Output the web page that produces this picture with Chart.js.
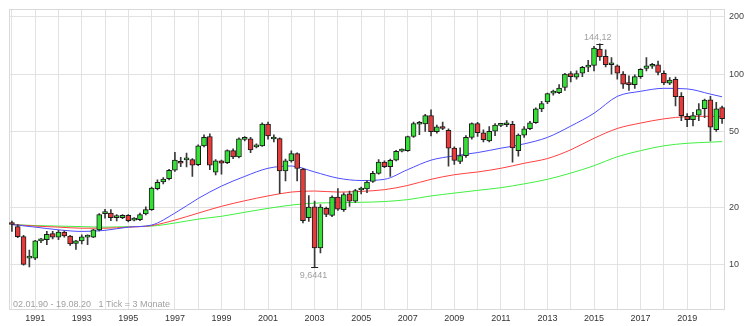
<!DOCTYPE html>
<html>
<head>
<meta charset="utf-8">
<script src="https://cdn.jsdelivr.net/npm/chart.js@4.4.1/dist/chart.umd.min.js"></script>
<style>
    html, body { margin: 0; padding: 0; background: #fff; }
    #wrap { width: 756px; height: 326px; position: relative; }
</style>
</head>
<body>
<div id="wrap"><canvas id="chart"></canvas></div>
<script>
// --- Data (quarterly candles, 1990 Q1 .. 2020 Q3) ---
const years = [1990, 1991, 1992, 1993, 1994, 1995, 1996, 1997, 1998, 1999, 2000, 2001, 2002, 2003, 2004,
    2005, 2006, 2007, 2008, 2009, 2010, 2011, 2012, 2013, 2014, 2015, 2016, 2017, 2018, 2019, 2020];
const quarterCount = 123;

const opens = [
    16.3, 15.8, 14.0, 10.8, 10.8, 13.3, 13.5, 14.5, 13.9, 14.8, 14.1, 12.9, 13.3, 13.9, 13.9, 15.2,
    18.5, 18.6, 17.6, 17.6, 18.1, 17.1, 17.2, 18.4, 19.4, 25.0, 27.1, 28.2, 31.3, 34.2, 35.4, 35.6,
    33.4, 42.0, 47.0, 30.5, 35.0, 34.2, 39.6, 36.7, 45.4, 45.7, 41.5, 42.0, 54.7, 45.6, 45.8, 31.0,
    35.0, 38.2, 31.7, 17.6, 20.1, 12.2, 19.7, 18.1, 22.6, 19.4, 23.5, 21.5, 24.6, 24.9, 27.3, 30.1,
    34.5, 32.6, 35.3, 39.4, 39.6, 47.0, 54.5, 54.7, 60.6, 49.9, 52.6, 50.6, 40.8, 34.8, 37.3, 46.5,
    54.9, 49.2, 44.6, 50.1, 53.8, 54.2, 54.4, 39.6, 47.8, 51.6, 55.5, 65.6, 71.4, 79.5, 79.8, 85.0,
    100.7, 96.5, 101.0, 108.8, 111.0, 135.5, 124.0, 112.0, 110.6, 100.0, 88.3, 88.0, 97.0, 107.0, 110.0, 112.0,
    101.0, 89.7, 94.0, 76.5, 60.0, 57.7, 60.8, 65.8, 73.3, 51.0, 66.7
];
const highs = [
    16.9, 16.2, 14.2, 11.9, 13.4, 13.7, 14.9, 14.9, 15.1, 15.0, 14.2, 13.4, 14.3, 14.3, 15.3, 18.5,
    19.5, 19.4, 18.3, 18.3, 18.3, 17.6, 18.6, 20.1, 25.5, 27.8, 28.6, 31.6, 38.8, 36.5, 38.5, 36.0,
    42.5, 48.0, 48.5, 35.5, 35.3, 40.0, 40.5, 46.2, 47.0, 46.5, 43.0, 55.5, 56.0, 48.0, 46.2, 35.8,
    39.5, 38.6, 32.0, 23.0, 21.5, 20.6, 20.0, 22.9, 25.0, 23.8, 24.3, 24.8, 25.5, 27.6, 30.8, 35.5,
    35.0, 35.8, 39.8, 40.5, 47.3, 56.0, 56.5, 61.5, 65.0, 54.0, 56.0, 51.5, 41.5, 41.0, 47.5, 55.5,
    55.8, 51.0, 53.0, 55.0, 55.0, 57.0, 56.5, 48.5, 53.0, 56.5, 66.5, 72.0, 79.5, 82.5, 88.0, 101.0,
    103.0, 104.0, 110.0, 118.0, 140.0, 144.12, 134.0, 122.0, 112.0, 103.0, 98.0, 99.0, 107.0, 122.0, 114.0, 117.0,
    104.0, 96.0, 96.5, 80.0, 62.0, 63.0, 70.0, 74.0, 76.4, 71.0, 68.0
];
const lows = [
    14.9, 13.8, 9.9, 9.7, 10.6, 13.0, 12.7, 13.6, 13.5, 13.9, 12.6, 12.0, 12.8, 12.7, 13.8, 15.0,
    17.5, 17.0, 16.9, 17.4, 16.7, 16.9, 17.0, 18.2, 19.2, 24.6, 26.5, 27.8, 30.8, 32.6, 32.5, 29.0,
    33.0, 41.5, 31.5, 29.5, 29.8, 33.8, 36.0, 36.3, 44.5, 38.7, 41.0, 41.7, 45.5, 44.0, 23.6, 27.5,
    34.5, 27.5, 16.5, 16.8, 9.6441, 11.5, 17.8, 17.8, 19.2, 19.0, 20.2, 21.2, 23.5, 23.8, 27.0, 29.8,
    32.2, 29.0, 35.0, 39.0, 39.3, 46.5, 48.0, 50.0, 47.3, 49.0, 51.0, 32.8, 33.5, 33.8, 36.5, 45.5,
    47.0, 44.0, 44.0, 47.5, 53.0, 53.0, 34.5, 37.0, 46.5, 51.0, 55.0, 63.5, 70.0, 77.5, 79.0, 82.0,
    91.0, 94.0, 97.0, 103.0, 104.0, 118.0, 109.0, 100.0, 94.0, 84.0, 82.0, 84.0, 95.0, 104.0, 107.0, 99.0,
    88.0, 88.0, 68.0, 57.0, 53.0, 53.5, 57.0, 59.0, 44.5, 50.0, 55.0
];
const closes = [
    16.2, 14.0, 10.0, 10.9, 13.3, 13.4, 14.4, 13.9, 14.8, 14.1, 12.8, 13.3, 13.95, 13.95, 15.2, 18.3,
    18.6, 17.6, 17.65, 18.1, 17.0, 17.4, 18.3, 19.4, 25.2, 27.0, 28.1, 31.2, 35.3, 34.0, 35.6, 33.2,
    42.0, 46.5, 33.2, 35.0, 34.0, 39.6, 36.7, 45.7, 46.0, 40.0, 42.5, 54.7, 47.3, 45.8, 31.0, 35.0,
    38.2, 31.9, 17.0, 20.0, 12.2, 20.0, 18.3, 22.6, 19.5, 23.3, 21.5, 24.4, 24.8, 27.1, 30.1, 34.5,
    32.6, 35.2, 39.3, 39.7, 46.9, 55.0, 55.2, 60.6, 49.9, 52.8, 51.8, 40.8, 35.2, 37.3, 46.5, 54.9,
    49.2, 45.2, 50.1, 53.9, 54.0, 54.4, 40.9, 47.8, 51.6, 55.5, 65.6, 70.0, 78.9, 80.0, 84.5, 100.0,
    97.0, 100.7, 108.6, 110.5, 136.9, 123.0, 112.0, 112.5, 101.0, 88.6, 88.0, 97.0, 106.0, 110.6, 112.0, 102.0,
    90.0, 93.0, 76.1, 60.5, 57.7, 60.5, 65.2, 73.0, 52.6, 65.6, 58.3
];

// moving averages, read once per year (first quarter) plus the last quarter
const maQuarters = [0, 4, 8, 12, 16, 20, 24, 28, 32, 36, 40, 44, 48, 52, 56, 60, 64, 68, 72, 76, 80,
    84, 88, 92, 96, 100, 104, 108, 112, 116, 120, 122];
const maBlue = [16.2, 15.7, 15.2, 14.9, 15.1, 15.7, 16.1, 18.6, 22.2, 25.8, 29.0, 32.0, 32.9, 30.6, 28.4,
    27.6, 28.0, 31.5, 35.3, 37.2, 38.7, 40.8, 43.0, 46.5, 53.3, 62.3, 76.4, 81.2, 84.2, 83.6, 78.5, 76.0];
const maRed = [16.2, 15.9, 15.7, 15.5, 15.5, 15.7, 16.0, 17.1, 18.6, 20.2, 21.6, 22.9, 24.0, 24.3, 24.0,
    24.2, 24.7, 26.0, 28.0, 29.6, 30.6, 32.0, 34.0, 36.0, 40.0, 46.0, 51.8, 55.3, 58.2, 59.8, 60.0, 59.8];
const maGreen = [16.2, 16.0, 15.9, 15.8, 15.7, 15.8, 15.9, 16.5, 17.3, 17.9, 18.8, 19.7, 20.5, 21.0, 21.1,
    21.2, 21.4, 21.9, 22.9, 23.7, 24.5, 25.3, 26.5, 28.0, 30.2, 33.0, 36.8, 39.6, 42.0, 43.3, 43.9, 44.2];

const yTicks = [10, 20, 50, 100, 200];
const rangeText = '02.01.90 - 19.08.20   1 Tick = 3 Monate';

// --- Build chart inputs ---
const labels = years.flatMap(y => [y + ' Q1', y + ' Q2', y + ' Q3', y + ' Q4']).slice(0, quarterCount);
const maPoints = values => values.map((v, i) => ({ x: labels[maQuarters[i]], y: v }));
const candleColors = opens.map((o, i) => closes[i] >= o ? '#35df35' : '#e63b3b');

const peakIndex = highs.indexOf(Math.max(...highs));
const lowIndex = lows.indexOf(Math.min(...lows));
const fmt = v => String(v).replace('.', ',');

const extrasPlugin = {
    id: 'extras',
    beforeDatasetsDraw(chart) {
        const { ctx, chartArea: a } = chart;
        ctx.save();
        ctx.strokeStyle = '#d9d9d9';
        ctx.lineWidth = 1;
        ctx.strokeRect(Math.round(a.left) + 0.5, Math.round(a.top) + 0.5,
            Math.round(a.right - a.left) - 1, Math.round(a.bottom - a.top) - 1);
        ctx.restore();
    },
    afterDatasetsDraw(chart) {
        const { ctx, chartArea: a, scales: { x, y } } = chart;
        ctx.save();
        ctx.font = '9px "Liberation Sans", Arial, sans-serif';
        ctx.fillStyle = '#a0a0a0';
        ctx.textAlign = 'center';

        // extreme caps + values
        ctx.strokeStyle = '#222';
        ctx.lineWidth = 1;
        const px = x.getPixelForValue(peakIndex);
        const py = y.getPixelForValue(highs[peakIndex]);
        ctx.beginPath();
        ctx.moveTo(px - 3.5, Math.round(py) + 0.5);
        ctx.lineTo(px + 3.5, Math.round(py) + 0.5);
        const lx = x.getPixelForValue(lowIndex);
        const ly = y.getPixelForValue(lows[lowIndex]);
        ctx.moveTo(lx - 3.5, Math.round(ly) + 0.5);
        ctx.lineTo(lx + 3.5, Math.round(ly) + 0.5);
        ctx.stroke();

        ctx.textBaseline = 'bottom';
        ctx.fillText(fmt(highs[peakIndex]), px - 2, py - 2);
        ctx.textBaseline = 'top';
        ctx.fillText(fmt(lows[lowIndex]), lx - 1, ly + 4);

        ctx.textAlign = 'left';
        ctx.textBaseline = 'bottom';
        ctx.fillText(rangeText, a.left + 4, a.bottom - 1);
        ctx.restore();
    }
};

Chart.defaults.font.family = '"Liberation Sans", Arial, sans-serif';
Chart.defaults.font.size = 9;

new Chart(document.getElementById('chart'), {
    type: 'bar',
    data: {
        labels: labels,
        datasets: [
            {
                type: 'bar',
                label: 'body',
                data: opens.map((o, i) => [o, closes[i]]),
                backgroundColor: candleColors,
                borderColor: '#1a1a1a',
                borderWidth: 1,
                borderSkipped: false,
                barThickness: 5,
                minBarLength: 2,
                grouped: false,
                order: 0
            },
            {
                type: 'bar',
                label: 'wick',
                data: lows.map((l, i) => [l, highs[i]]),
                backgroundColor: '#3a3a3a',
                borderWidth: 0,
                barThickness: 1,
                grouped: false,
                order: 1
            },
            {
                type: 'line', label: 'MA blue', data: maPoints(maBlue),
                borderColor: '#4d4dff', borderWidth: 1, pointRadius: 0,
                cubicInterpolationMode: 'monotone', order: 2
            },
            {
                type: 'line', label: 'MA red', data: maPoints(maRed),
                borderColor: '#ff4040', borderWidth: 1, pointRadius: 0,
                cubicInterpolationMode: 'monotone', order: 3
            },
            {
                type: 'line', label: 'MA green', data: maPoints(maGreen),
                borderColor: '#40f040', borderWidth: 1, pointRadius: 0,
                cubicInterpolationMode: 'monotone', order: 4
            }
        ]
    },
    options: {
        responsive: true,
        maintainAspectRatio: false,
        animation: false,
        layout: { padding: { left: 9, top: 2, right: 0, bottom: 0 } },
        plugins: { legend: { display: false }, tooltip: { enabled: false } },
        scales: {
            x: {
                type: 'category',
                offset: true,
                grid: {
                    offset: false,
                    drawTicks: false,
                    color: c => (c.index % 4 === 0 ? '#e2e2e2' : 'rgba(0,0,0,0)')
                },
                border: { display: false },
                ticks: {
                    autoSkip: false,
                    maxRotation: 0,
                    padding: 3,
                    color: '#333',
                    callback: (v, i) => {
                        if (i % 4 !== 0) return '';
                        const yr = years[i / 4];
                        return yr % 2 === 1 ? String(yr) : '';
                    }
                },
                afterFit: s => { s.height = 16; }
            },
            y: {
                type: 'logarithmic',
                position: 'right',
                min: 5.76,
                max: 218.8,
                grid: { drawTicks: false, color: '#e2e2e2' },
                border: { display: false },
                ticks: { padding: 4, color: '#444', callback: v => String(v) },
                afterBuildTicks: s => { s.ticks = yTicks.map(v => ({ value: v })); },
                afterFit: s => { s.width = 31; }
            }
        }
    },
    plugins: [extrasPlugin]
});
</script>
</body>
</html>
